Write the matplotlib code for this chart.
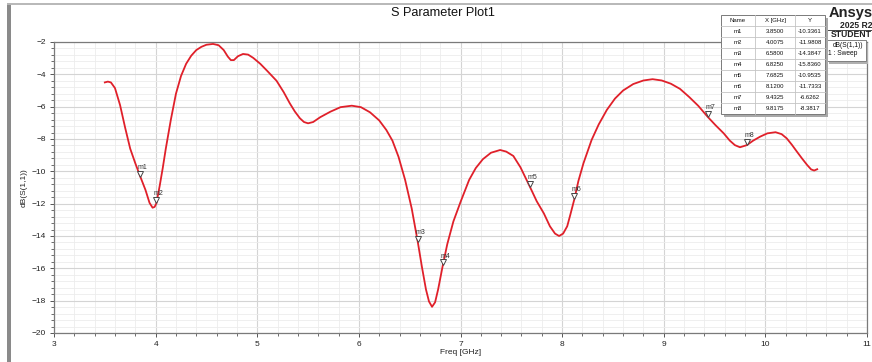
import matplotlib
matplotlib.use("Agg")
import matplotlib.pyplot as plt
from matplotlib.patches import Rectangle
from matplotlib.lines import Line2D
from matplotlib.ticker import MultipleLocator
import matplotlib.transforms as mtransforms

plt.rcParams['font.family'] = ['Liberation Sans', 'DejaVu Sans']

# ---- data ----
freq = [3.50, 3.53, 3.56, 3.60, 3.65, 3.70, 3.75, 3.80, 3.85, 3.90, 3.94, 3.97, 3.99, 4.0075,
        4.04, 4.07, 4.10, 4.15, 4.20, 4.25, 4.30, 4.35, 4.40, 4.45, 4.50, 4.565, 4.62, 4.67,
        4.71, 4.74, 4.77, 4.81, 4.86, 4.91, 4.96, 5.03, 5.10, 5.19, 5.26, 5.32, 5.37, 5.42,
        5.46, 5.50, 5.55, 5.62, 5.72, 5.82, 5.93, 6.02, 6.11, 6.20, 6.27, 6.33, 6.39, 6.455,
        6.52, 6.58, 6.62, 6.66, 6.69, 6.72, 6.75, 6.78, 6.825, 6.87, 6.93, 7.00, 7.085, 7.15,
        7.22, 7.30, 7.39, 7.45, 7.52, 7.59, 7.6825, 7.75, 7.82, 7.88, 7.93, 7.97, 8.01, 8.05,
        8.08, 8.12, 8.16, 8.21, 8.29, 8.36, 8.44, 8.52, 8.60, 8.70, 8.80, 8.89, 8.98, 9.07,
        9.16, 9.25, 9.34, 9.4325, 9.51, 9.59, 9.65, 9.70, 9.75, 9.8175, 9.88, 9.95, 10.02,
        10.10, 10.16, 10.21, 10.26, 10.31, 10.36, 10.41, 10.45, 10.48, 10.51]
s11_db = [-4.50, -4.45, -4.50, -4.85, -5.90, -7.30, -8.60, -9.50, -10.34, -11.15, -11.95, -12.25,
          -12.20, -11.98, -10.90, -9.80, -8.60, -6.80, -5.20, -4.10, -3.35, -2.85, -2.50, -2.30,
          -2.17, -2.12, -2.20, -2.50, -2.90, -3.12, -3.12, -2.88, -2.74, -2.78, -2.98, -3.35,
          -3.80, -4.40, -5.10, -5.79, -6.30, -6.72, -6.95, -7.03, -6.95, -6.65, -6.31, -6.03,
          -5.94, -6.03, -6.35, -6.85, -7.44, -8.10, -9.10, -10.53, -12.30, -14.38, -15.90,
          -17.30, -18.05, -18.38, -18.10, -17.30, -15.84, -14.50, -13.10, -11.90, -10.53, -9.80,
          -9.25, -8.85, -8.68, -8.78, -9.05, -9.75, -10.95, -11.85, -12.60, -13.40, -13.85,
          -14.00, -13.85, -13.40, -12.70, -11.73, -10.60, -9.50, -8.06, -7.10, -6.20, -5.50,
          -5.00, -4.60, -4.38, -4.30, -4.38, -4.58, -4.90, -5.40, -5.95, -6.63, -7.15, -7.65,
          -8.10, -8.38, -8.51, -8.38, -8.10, -7.85, -7.65, -7.58, -7.70, -7.96, -8.35, -8.78,
          -9.20, -9.60, -9.88, -9.95, -9.87]

marker_names = ["m1", "m2", "m3", "m4", "m5", "m6", "m7", "m8"]
marker_x = [3.8500, 4.0075, 6.5800, 6.8250, 7.6825, 8.1200, 9.4325, 9.8175]
marker_y = [-10.3361, -11.9808, -14.3847, -15.8360, -10.9535, -11.7333, -6.6262, -8.3817]

x_ticks = [3, 4, 5, 6, 7, 8, 9, 10, 11]
y_ticks = [-20, -18, -16, -14, -12, -10, -8, -6, -4, -2]

title = "S Parameter Plot1"
xlabel = "Freq [GHz]"
ylabel = "dB(S(1,1))"
legend_lines = ["dB(S(1,1))", "1 : Sweep"]
table_header = ["Name", "X [GHz]", "Y"]

W, H = 872, 362
fig = plt.figure(figsize=(W / 100, H / 100), dpi=100)
fig.patch.set_facecolor("white")

ax = fig.add_axes([54 / W, 1 - 333 / H, (867 - 54) / W, (333 - 42) / H])
ax.set_xlim(3, 11)
ax.set_ylim(-20, -2)
ax.xaxis.set_major_locator(MultipleLocator(1))
ax.xaxis.set_minor_locator(MultipleLocator(0.2))
ax.yaxis.set_major_locator(MultipleLocator(2))
ax.yaxis.set_minor_locator(MultipleLocator(0.4))
ax.set_xticks(x_ticks)
ax.set_yticks(y_ticks)
ax.grid(which="major", color="#d4d4d4", lw=0.8)
ax.grid(which="minor", color="#ececec", lw=0.6)
ax.set_axisbelow(True)
for sp in ax.spines.values():
    sp.set_color("#7a7a7a")
    sp.set_linewidth(0.9)
ax.tick_params(which="major", direction="out", length=3, width=0.7, color="#555555",
               labelsize=6, labelcolor="#222222", pad=3)
ax.tick_params(which="minor", direction="out", length=2, width=0.6, color="#555555")
ax.set_xlabel(xlabel, fontsize=6, color="#222222")
ax.set_ylabel(ylabel, fontsize=6, color="#222222")
ax.xaxis.set_label_coords(0.5, -(353 - 333) / (333 - 42))
ax.yaxis.set_label_coords(-(54 - 24) / (867 - 54), 0.5)
ax.xaxis.label.set_va("center")
ax.yaxis.label.set_va("center")

ax.plot(freq, s11_db, color="#e0202a", lw=1.3, solid_joinstyle="round", zorder=3)

tri_tr = mtransforms.offset_copy(ax.transData, fig=fig, x=0, y=3.2, units="dots")
lab_tr = mtransforms.offset_copy(ax.transData, fig=fig, x=-2.5, y=6.0, units="dots")
for n, mx, my in zip(marker_names, marker_x, marker_y):
    ax.plot([mx], [my], marker="v", ms=5, mfc="white", mec="#444444", mew=0.7,
            transform=tri_tr, zorder=4, clip_on=False)
    ax.text(mx, my, n, transform=lab_tr, fontsize=5, color="#333333",
            ha="left", va="bottom", zorder=5)

fig.text(443 / W, 1 - 13 / H, title, fontsize=9.2, ha="center", va="center", color="#111111")

# ---- overlay for frame, table, legend, logo ----
ov = fig.add_axes([0, 0, 1, 1], zorder=10)
ov.set_xlim(0, W)
ov.set_ylim(H, 0)
ov.axis("off")
ov.patch.set_alpha(0)

ov.add_line(Line2D([8, W], [3.5, 3.5], color="#b8b8b8", lw=1.4))
ov.add_patch(Rectangle((7, 3), 4, H - 3, color="#8a8a8a", lw=0))

# legend box (under table)
ov.add_patch(Rectangle((829, 43), 39, 21, color="#b0b0b0", lw=0))
ov.add_patch(Rectangle((826, 40), 40, 21, facecolor="white", edgecolor="#808080", lw=0.7))
ov.text(833, 45.5, legend_lines[0], fontsize=4.8, ha="left", va="center", color="#111111")
ov.text(828, 53.5, legend_lines[1], fontsize=4.8, ha="left", va="center", color="#111111")

# table
tx0, tx1 = 721, 825
ty0, rh = 14.5, 11.1
nrows = len(marker_names) + 1
ty1 = ty0 + rh * nrows
cols = [721, 755, 795, 825]
ov.add_patch(Rectangle((tx0 + 3, ty0 + 3), tx1 - tx0, ty1 - ty0, color="#a8a8a8", lw=0))
ov.add_patch(Rectangle((tx0, ty0), tx1 - tx0, ty1 - ty0, facecolor="white",
                       edgecolor="#7a7a7a", lw=0.7))
for i in range(1, nrows):
    ov.add_line(Line2D([tx0, tx1], [ty0 + i * rh] * 2, color="#c4c4c4", lw=0.6))
for c in cols[1:-1]:
    ov.add_line(Line2D([c, c], [ty0, ty1], color="#c4c4c4", lw=0.6))
centers = [(cols[i] + cols[i + 1]) / 2 for i in range(3)]
for j, h in enumerate(table_header):
    ov.text(centers[j], ty0 + rh / 2, h, fontsize=4.3, ha="center", va="center", color="#111111")
for i, (n, mx, my) in enumerate(zip(marker_names, marker_x, marker_y)):
    yc = ty0 + rh * (i + 1.5)
    ov.text(centers[0], yc, n, fontsize=4.3, ha="center", va="center", color="#111111")
    ov.text(centers[1], yc, f"{mx:.4f}", fontsize=4.3, ha="center", va="center", color="#111111")
    ov.text(centers[2], yc, f"{my:.4f}", fontsize=4.3, ha="center", va="center", color="#111111")

# logo
ov.text(873, 13, "Ansys", fontsize=10.5, fontweight="bold", ha="right", va="center", color="#222222")
ov.text(872, 25, "2025 R2", fontsize=6.2, fontweight="bold", ha="right", va="center", color="#222222")
ov.add_line(Line2D([828, W], [29.5, 29.5], color="#444444", lw=0.7))
ov.text(872, 34.5, "STUDENT", fontsize=6.2, fontweight="bold", ha="right", va="center", color="#222222")

fig.savefig("out.png", dpi=100)
